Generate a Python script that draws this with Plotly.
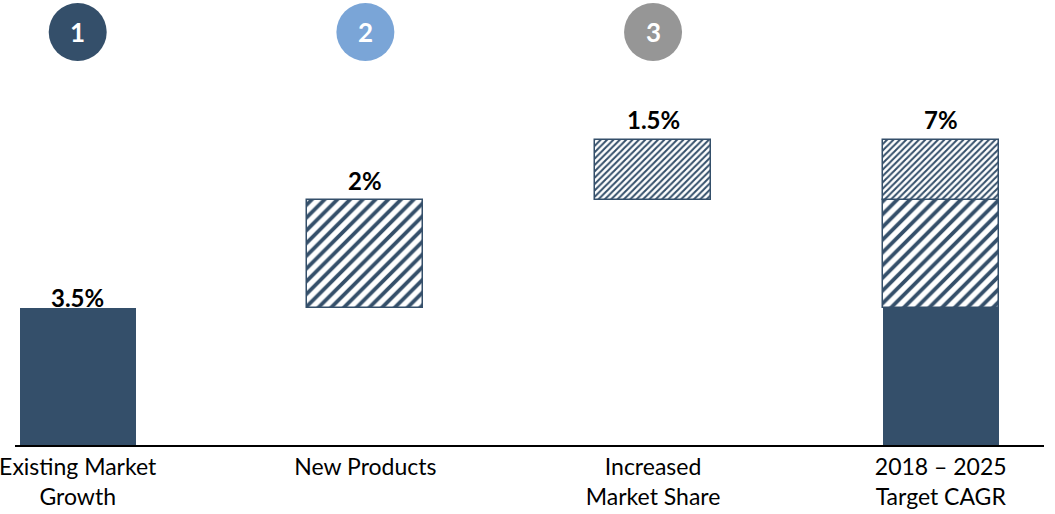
import plotly.graph_objects as go

# ---- data ----
categories = ["Existing Market<br>Growth", "New Products", "Increased<br>Market Share", "2018 – 2025<br>Target CAGR"]
contrib_values = [3.5, 2.0, 1.5]          # labelled contributions (%)
total_value = 7.0                          # labelled target CAGR (%)
drawn_heights = [3.14, 2.47, 1.38]         # bar heights as drawn in the picture (not to scale with labels)
step_numbers = ["1", "2", "3"]

# ---- styles ----
DARK = "#344F6A"
LIGHT_BLUE = "#7AA5D7"
GREY = "#969696"
circle_colors = [DARK, LIGHT_BLUE, GREY]
FONT = "Lato"

fig = go.Figure()

h1, h2, h3 = drawn_heights
base2 = h1
base3 = h1 + h2

# solid: existing market growth (and its part in total)
fig.add_trace(go.Bar(
    x=[categories[0], categories[3]], y=[h1, h1], base=[0, 0],
    marker=dict(color=DARK, line=dict(width=0)), width=0.404, hoverinfo="skip"))
# wide hatch: new products
fig.add_trace(go.Bar(
    x=[categories[1], categories[3]], y=[h2, h2], base=[base2, base2],
    marker=dict(color="white", line=dict(color=DARK, width=1.5),
                pattern=dict(shape="/", fgcolor=DARK, bgcolor="white", size=9, solidity=0.42, fillmode="replace")),
    width=0.404, hoverinfo="skip"))
# fine hatch: increased market share
fig.add_trace(go.Bar(
    x=[categories[2], categories[3]], y=[h3, h3], base=[base3, base3],
    marker=dict(color="white", line=dict(color=DARK, width=1.5),
                pattern=dict(shape="/", fgcolor=DARK, bgcolor="white", size=4.5, solidity=0.45, fillmode="replace")),
    width=0.404, hoverinfo="skip"))

def pct(v):
    return f"{v:g}%"

tops = [h1, base3, base3 + h3, base3 + h3]
label_texts = [pct(v) for v in contrib_values] + [pct(total_value)]
shifts = [-6, 3, 4, 4]
for i, (t, txt) in enumerate(zip(tops, label_texts)):
    fig.add_annotation(x=categories[i], y=t, text=f"<b>{txt}</b>", showarrow=False,
                       yanchor="bottom", yshift=shifts[i],
                       font=dict(family=FONT, size=24, color="black"))

# numbered circles
for i, (num, col) in enumerate(zip(step_numbers, circle_colors)):
    fig.add_shape(type="circle", xref="x", yref="paper",
                  xsizemode="pixel", ysizemode="pixel",
                  xanchor=i, yanchor=1 - 32 / 445,
                  x0=-29, x1=29, y0=-29, y1=29,
                  fillcolor=col, line=dict(width=0))
    fig.add_annotation(x=i, xref="x", y=1 - 32 / 445, yref="paper", text=f"<b>{num}</b>",
                       showarrow=False, font=dict(family=FONT, size=26, color="white"),
                       xanchor="center", yanchor="middle")

fig.update_layout(
    width=1055, height=514,
    margin=dict(l=8, r=11, t=0, b=69),
    plot_bgcolor="white", paper_bgcolor="white",
    barmode="overlay", showlegend=False, bargap=0,
    font=dict(family=FONT, size=23, color="black"),
    xaxis=dict(type="category", categoryorder="array", categoryarray=categories,
               range=[-0.218, 3.359], showline=True, linecolor="black", linewidth=2,
               showgrid=False, zeroline=False, ticks="", tickfont=dict(family=FONT, size=23, color="black")),
    yaxis=dict(range=[0, 10.21], visible=False, showgrid=False, zeroline=False),
)

fig.write_html("out.html")
